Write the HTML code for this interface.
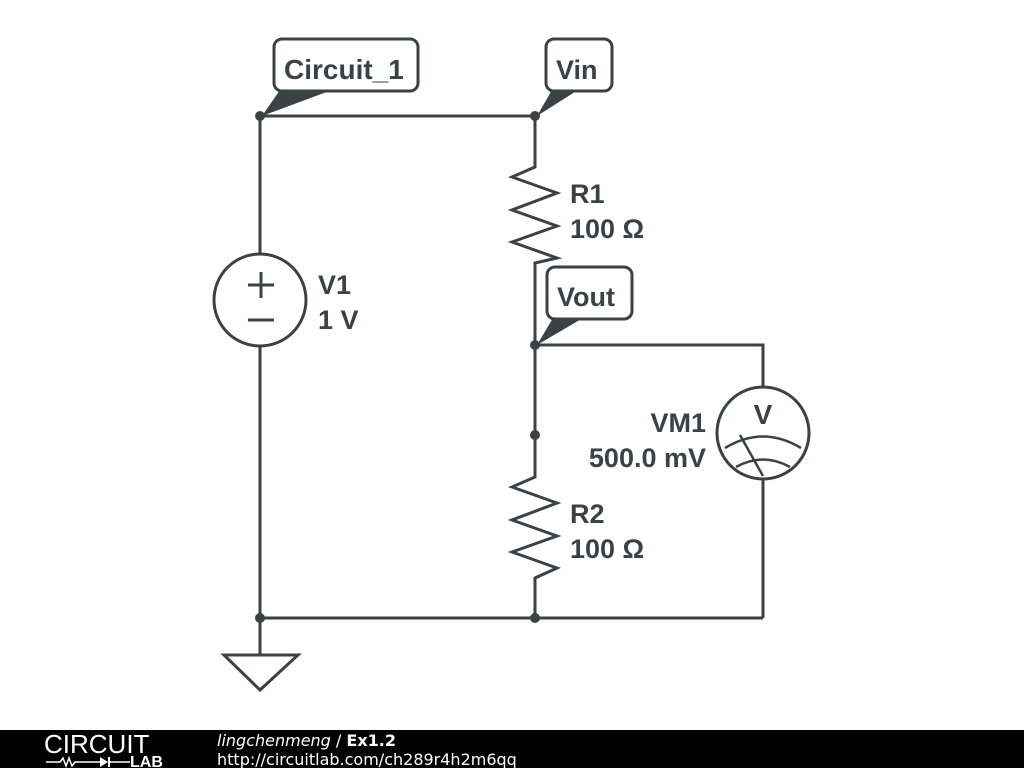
<!DOCTYPE html>
<html><head><style>
body{margin:0;width:1024px;height:768px;background:#fff;overflow:hidden;font-family:"Liberation Sans",sans-serif}
</style></head><body>
<svg width="1024" height="768" style="position:absolute;left:0;top:0">
<g stroke="#3b4246" stroke-width="3" fill="none" stroke-linejoin="miter">
<polyline points="260,254 260,116 535,116 535,155"/>
<polyline points="535,155 535,167 512,177 557,193 512,210 557,226 512,242 557,258 535,263 535,345 763,345 763,387"/>
<line x1="535" y1="345" x2="535" y2="475"/>
<polyline points="535,475 535,477 512,487 557,503 512,520 557,536 512,552 557,568 535,578 535,618"/>
<circle cx="260" cy="300" r="46"/>
<line x1="260" y1="346" x2="260" y2="655"/>
<line x1="260" y1="618" x2="763" y2="618"/>
<line x1="763" y1="618" x2="763" y2="479"/>
<circle cx="763" cy="433" r="46"/>
<polygon points="224,655 298,655 260,690"/>
<line x1="248" y1="285" x2="274" y2="285"/><line x1="261" y1="272" x2="261" y2="298"/>
<line x1="248" y1="320" x2="274" y2="320"/>
<path d="M725,448 Q763,425 801,448" stroke-width="2.5"/>
<path d="M736,467 Q763,452 790,467" stroke-width="2.5"/>
<line x1="740" y1="435" x2="763" y2="476" stroke-width="2.5"/>
<rect x="274" y="39" width="144" height="52" rx="8"/>
<rect x="546" y="39" width="66" height="52" rx="8"/>
<rect x="547" y="267" width="85" height="52" rx="8"/>
</g>
<circle cx="260" cy="116" r="5" fill="#3b4246"/>
<circle cx="535" cy="116" r="5" fill="#3b4246"/>
<circle cx="535" cy="345" r="5" fill="#3b4246"/>
<circle cx="535" cy="435" r="5" fill="#3b4246"/>
<circle cx="260" cy="618" r="5" fill="#3b4246"/>
<circle cx="535" cy="618" r="5" fill="#3b4246"/>
<polygon points="280,90 332,90 262,116" fill="#3b4246"/>
<polygon points="552,90 578,90 537,116" fill="#3b4246"/>
<polygon points="553,318 583,318 537,345" fill="#3b4246"/>
<g fill="#3b4246" font-weight="bold" font-size="27">
<text x="284" y="79" font-size="28">Circuit_1</text>
<text x="556" y="79">Vin</text>
<text x="557" y="306">Vout</text>
<text x="570" y="203">R1</text><text x="570" y="238">100 Ω</text>
<text x="570" y="523">R2</text><text x="570" y="558">100 Ω</text>
<text x="318" y="294">V1</text><text x="318" y="329">1 V</text>
<text x="706" y="432" text-anchor="end">VM1</text>
<text x="706" y="467" text-anchor="end">500.0 mV</text>
<text x="763" y="424" text-anchor="middle" font-size="28">V</text>
</g>
<rect x="0" y="730" width="1024" height="38" fill="#000"/>
<text x="44" y="753" fill="#fff" font-size="26" font-weight="300">CIRCUIT</text>
<text x="130" y="767" fill="#fff" font-size="16" font-weight="bold">LAB</text>
<polyline points="46,762 60,762 63,758 66,766 69,758 72,766 75,762 100,762" stroke="#fff" stroke-width="1.5" fill="none"/>
<polygon points="100,757 100,767 108,762" fill="#fff"/>
<line x1="109" y1="757" x2="109" y2="767" stroke="#fff" stroke-width="2"/>
<line x1="109" y1="762" x2="130" y2="762" stroke="#fff" stroke-width="1.5"/>
<text x="217" y="746" fill="#fff" font-size="16" font-family="DejaVu Sans"><tspan font-style="italic">lingchenmeng</tspan> / <tspan font-weight="bold">Ex1.2</tspan></text>
<text x="217" y="765" fill="#fff" font-size="16" font-family="DejaVu Sans">http://circuitlab.com/ch289r4h2m6qq</text>
</svg>
</body></html>
